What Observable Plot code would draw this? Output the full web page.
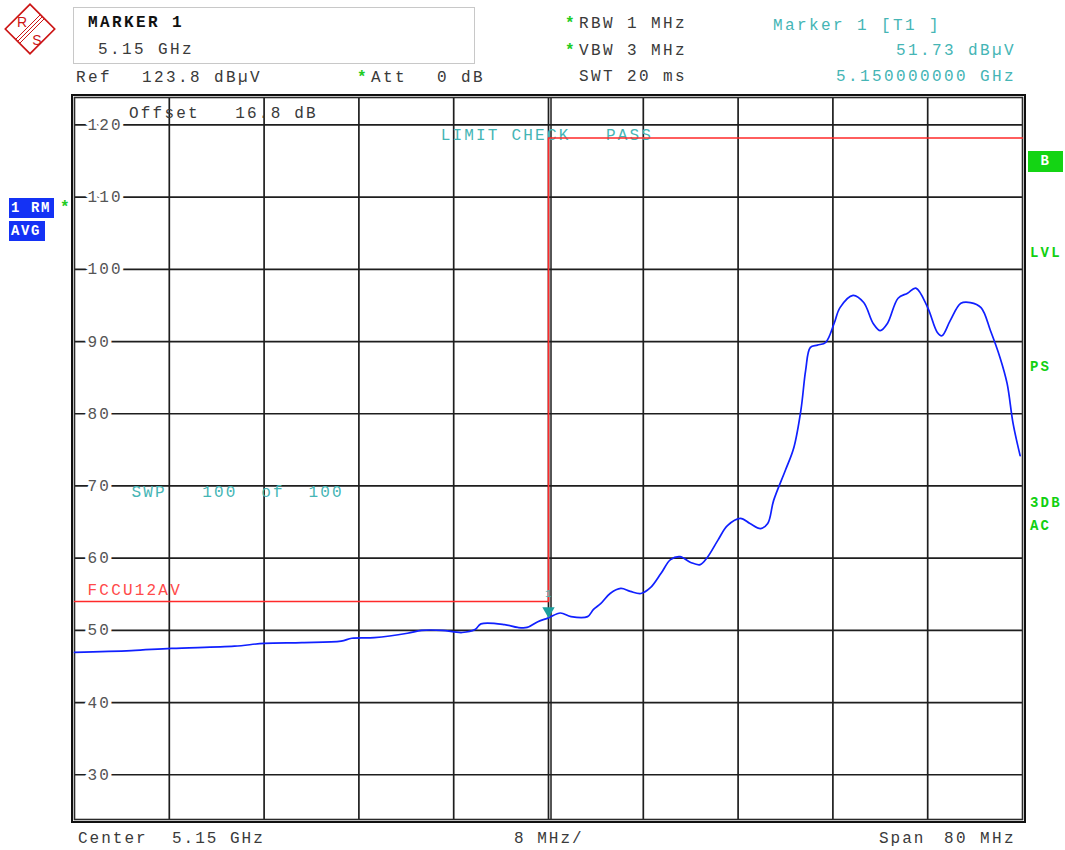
<!DOCTYPE html>
<html>
<head>
<meta charset="utf-8">
<script src="https://cdn.jsdelivr.net/npm/d3@7"></script>
<script src="https://cdn.jsdelivr.net/npm/@observablehq/plot@0.6"></script>
<style>
  html, body { margin: 0; padding: 0; background: #fff; }
  #wrap { position: relative; width: 1065px; height: 850px; overflow: hidden; background: #fff; }
  #wrap svg.chart { position: absolute; left: 0; top: 0; }
  .t { position: absolute; font-family: "Liberation Mono", "DejaVu Sans Mono", monospace; font-size: 16px;
       letter-spacing: 2.4px; color: #3a3a3a; line-height: 16px; white-space: pre; }
  .b { font-weight: bold; color: #111; }
  .cy { color: #45b5b5; }
  .gs { color: #22cc22; font-weight: bold; }
  .side { position: absolute; font-family: "Liberation Mono", "DejaVu Sans Mono", monospace; font-size: 14px;
          font-weight: bold; letter-spacing: 2.2px; line-height: 14px; white-space: pre; }
  .gr { color: #11d011; }
  .box { position: absolute; color: #fff; font-family: "Liberation Mono", "DejaVu Sans Mono", monospace;
         font-size: 14px; font-weight: bold; letter-spacing: 1.6px; line-height: 20px; white-space: pre; }
  .chart text { letter-spacing: 2.2px; }
</style>
</head>
<body>
<div id="wrap">
  <div id="plot"></div>

  <!-- R&S logo -->
  <svg style="position:absolute;left:0;top:0" width="62" height="60">
    <g transform="translate(30,29)">
      <rect x="-17.5" y="-17.5" width="35" height="35" transform="rotate(45)" fill="#fff" stroke="#cc1515" stroke-width="1.6"/>
      <line x1="14.5" y1="-10.5" x2="-10.5" y2="14.5" stroke="#cc1515" stroke-width="1"/>
      <line x1="12.5" y1="-12.5" x2="-12.5" y2="12.5" stroke="#cc1515" stroke-width="1"/>
      <line x1="10.5" y1="-14.5" x2="-14.5" y2="10.5" stroke="#cc1515" stroke-width="1"/>
      <text x="-8" y="-2" text-anchor="middle" font-family="Liberation Sans, Arial, sans-serif" font-size="14" fill="#cc1515">R</text>
      <text x="7" y="16" text-anchor="middle" font-family="Liberation Sans, Arial, sans-serif" font-size="14" fill="#cc1515">S</text>
    </g>
  </svg>

  <!-- marker box -->
  <div style="position:absolute;left:73px;top:7px;width:400px;height:55px;border:1px solid #c8c8c8;"></div>
  <div class="t b" style="left:88px;top:15px;">MARKER 1</div>
  <div class="t" style="left:98px;top:42px;">5.15 GHz</div>

  <div class="t" style="left:76px;top:70px;">Ref</div>
  <div class="t" style="left:142px;top:70px;">123.8 dBµV</div>
  <div class="t gs" style="left:357px;top:70px;">*</div>
  <div class="t" style="left:371px;top:70px;">Att</div>
  <div class="t" style="left:437px;top:70px;">0 dB</div>

  <div class="t gs" style="left:565px;top:16px;">*</div>
  <div class="t" style="left:579px;top:16px;">RBW 1 MHz</div>
  <div class="t gs" style="left:565px;top:43px;">*</div>
  <div class="t" style="left:579px;top:43px;">VBW 3 MHz</div>
  <div class="t" style="left:579px;top:69px;">SWT 20 ms</div>

  <div class="t cy" style="left:773px;top:18px;">Marker 1 [T1 ]</div>
  <div class="t cy" style="right:49px;top:43px;">51.73 dBµV</div>
  <div class="t cy" style="right:49px;top:69px;">5.150000000 GHz</div>

  <!-- left side trace info -->
  <div class="box" style="left:9px;top:198px;width:45px;height:20px;background:#1432f5;text-indent:2px;">1 RM</div>
  <div class="t gs" style="left:60px;top:200px;">*</div>
  <div class="box" style="left:9px;top:221px;width:36px;height:20px;background:#1432f5;text-indent:2px;">AVG</div>

  <!-- right side status -->
  <div class="box" style="left:1028px;top:151px;width:35px;height:21px;background:#14d414;text-align:center;line-height:21px;">B</div>
  <div class="side gr" style="left:1030px;top:246px;">LVL</div>
  <div class="side gr" style="left:1030px;top:360px;">PS</div>
  <div class="side gr" style="left:1030px;top:496px;">3DB</div>
  <div class="side gr" style="left:1030px;top:519px;">AC</div>

  <!-- bottom -->
  <div class="t" style="left:78px;top:831px;letter-spacing:2px;">Center</div>
  <div class="t" style="left:172px;top:831px;letter-spacing:2px;">5.15 GHz</div>
  <div class="t" style="left:514px;top:831px;letter-spacing:2px;">8 MHz/</div>
  <div class="t" style="left:879px;top:831px;letter-spacing:2px;">Span</div>
  <div class="t" style="left:944px;top:831px;letter-spacing:2.4px;">80 MHz</div>
</div>

<script>
// ---- data ----
const freqMHz = [5110.0, 5114.8, 5118.2, 5123.5, 5126.0, 5129.2, 5132.5, 5133.4, 5135.3, 5138.1,
  5139.3, 5141.0, 5142.7, 5143.8, 5144.3, 5146.3, 5147.4, 5148.2, 5149.1, 5150.0,
  5151.0, 5151.9, 5153.3, 5153.8, 5154.4, 5155.2, 5156.1, 5156.9, 5157.8, 5158.6,
  5159.5, 5160.3, 5161.1, 5162.0, 5162.8, 5163.4, 5164.3, 5165.1, 5166.2, 5167.0,
  5167.9, 5168.5, 5169.0, 5170.0, 5170.7, 5171.3, 5171.7, 5172.1, 5172.7, 5173.4,
  5174.1, 5174.6, 5175.7, 5176.6, 5177.4, 5178.0, 5178.6, 5179.5, 5180.3, 5181.0,
  5182.0, 5182.8, 5183.2, 5183.9, 5184.8, 5185.6, 5186.5, 5187.3, 5188.1, 5188.7,
  5189.2, 5189.8];
const levelDbuV = [46.95, 47.2, 47.5, 47.8, 48.2, 48.3, 48.5, 48.9, 49.0, 49.6,
  50.0, 50.0, 49.7, 50.1, 50.9, 50.8, 50.4, 50.4, 51.2, 51.73,
  52.4, 51.9, 51.9, 52.9, 53.7, 55.1, 55.8, 55.4, 55.1, 55.9,
  57.9, 59.8, 60.2, 59.4, 59.1, 60.1, 62.5, 64.5, 65.5, 64.8,
  64.1, 64.8, 68.0, 72.2, 75.3, 80.5, 86.0, 89.2, 89.5, 89.9,
  92.5, 94.7, 96.4, 95.4, 92.5, 91.5, 92.5, 96.0, 96.7, 97.4,
  94.7, 91.3, 90.8, 92.9, 95.3, 95.4, 94.7, 91.5, 87.8, 84.2,
  78.7, 74.2];
const limitFreq = [5110, 5150, 5150, 5190];
const limitDb = [54.0, 54.0, 118.2, 118.2];
const yTicks = [30, 40, 50, 60, 70, 80, 90, 100, 110, 120];
const xGrid = [5118, 5126, 5134, 5142, 5150, 5158, 5166, 5174, 5182];
const markerFreq = [5150];
const markerDb = [51.73];

// ---- build ----
const trace = freqMHz.map((f, i) => ({f, d: levelDbuV[i]}));
const limit = limitFreq.map((f, i) => ({f, d: limitDb[i]}));
const marker = markerFreq.map((f, i) => ({f, d: markerDb[i]}));
const mono = "'Liberation Mono', 'DejaVu Sans Mono', monospace";
const gridColor = "#1e1e1e";
const cyan = "#45b5b5";

const chart = Plot.plot({
  width: 1065, height: 850,
  marginLeft: 74, marginRight: 43, marginTop: 97, marginBottom: 31,
  className: "chart",
  style: {background: "transparent", fontFamily: mono, fontSize: "16px", overflow: "visible"},
  x: {domain: [5110, 5190], axis: null},
  y: {domain: [23.8, 123.8], axis: null},
  marks: [
    Plot.ruleY(yTicks, {stroke: gridColor, strokeWidth: 1.7}),
    Plot.ruleX(xGrid, {stroke: gridColor, strokeWidth: 1.7}),
    Plot.ruleX([5150], {stroke: gridColor, strokeWidth: 1.5, dx: 2.5}),
    Plot.text(yTicks, {x: 5110, y: d => d, text: d => String(d), dx: 13, textAnchor: "start",
      fill: "#555", stroke: "white", strokeWidth: 7, fontSize: 16}),
    Plot.frame({stroke: "#2a2a2a", strokeWidth: 1.6}),
    Plot.frame({stroke: "#111", strokeWidth: 2, inset: -2.5}),
    Plot.text(["Offset\u00a0\u00a0\u00a016.8\u00a0dB"], {x: 5114.6, y: 121.7, textAnchor: "start", fill: "#3a3a3a", fontSize: 16}),
    Plot.text(["LIMIT\u00a0CHECK\u00a0\u00a0\u00a0PASS"], {x: 5140.9, y: 118.6, textAnchor: "start", fill: cyan, fontSize: 16}),
    Plot.text(["SWP\u00a0\u00a0\u00a0100\u00a0\u00a0of\u00a0\u00a0100"], {x: 5114.8, y: 69.2, textAnchor: "start", fill: cyan, fontSize: 16}),
    Plot.text(["FCCU12AV"], {x: 5111.1, y: 55.6, textAnchor: "start", fill: "#ff4a4a", fontSize: 16}),
    Plot.line(limit, {x: "f", y: "d", stroke: "#ff2a2a", strokeWidth: 1.6}),
    Plot.line(trace, {x: "f", y: "d", stroke: "#1020ff", strokeWidth: 1.7, curve: "catmull-rom"}),
    Plot.dot(marker, {x: "f", y: "d", symbol: "triangle", rotate: 180, r: 4.6, fill: "#1a9e9e", stroke: "none", dy: -7}),
    Plot.text(marker, {x: "f", y: "d", text: () => "1", dy: -24, dx: 1, fill: cyan, fontSize: 11})
  ]
});
document.getElementById("plot").appendChild(chart);
</script>
</body>
</html>
